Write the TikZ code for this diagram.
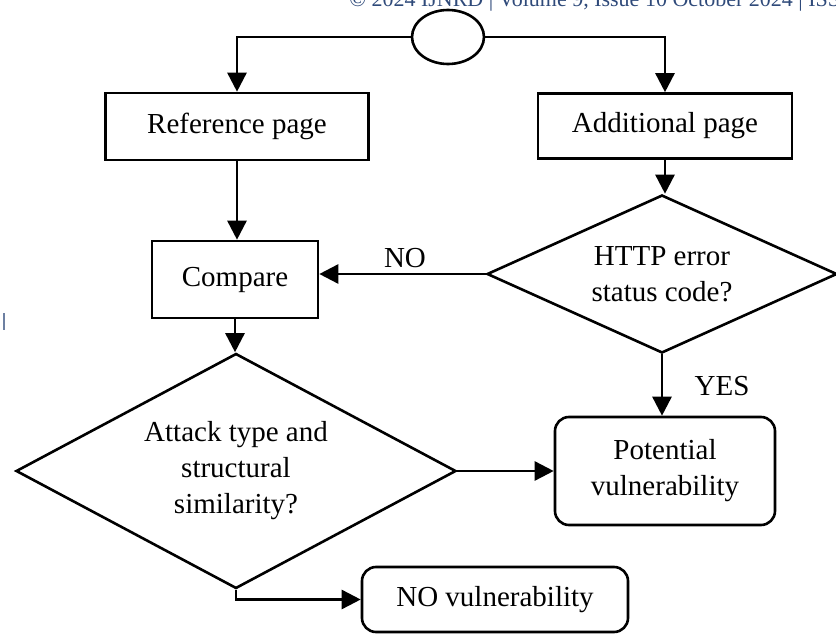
\documentclass[tikz,border=0pt]{standalone}
\usepackage{fontspec}
\setmainfont{Liberation Serif}
\usetikzlibrary{shapes.geometric,arrows.meta}
\definecolor{hdrblue}{HTML}{2F4A7A}
\begin{document}
\begin{tikzpicture}[x=1pt,y=-1pt,
  font=\fontsize{29}{36}\selectfont,
  line width=2.6pt,
  box/.style={draw, rectangle, inner sep=0pt, align=center},
  rbox/.style={box, rounded corners=14pt},
  decision/.style={draw, diamond, inner sep=0pt, align=center},
  terminal/.style={draw, ellipse, inner sep=0pt},
  arr/.style={-{Triangle[length=19pt,width=19pt]}},
  lbl/.style={inner sep=0pt}]
\useasboundingbox (0,0) rectangle (836,634);

% running header of the page (only its lower part is inside the page)
\node[anchor=base west, inner sep=0pt, text=hdrblue,
      font=\fontsize{22}{26}\selectfont] (hdr) at (348,6.5)
  {© 2024 IJNRD | Volume 9, Issue 10 October 2024 | ISSN: 2456-4184};
\draw[hdrblue!70, line width=2pt] (4,313) -- (4,330);

% nodes
\node[terminal, minimum width=72pt, minimum height=54pt] (start) at (448,37) {};
\node[box, minimum width=263pt, minimum height=67pt] (ref) at (237,126.5) {Reference page};
\node[box, minimum width=254pt, minimum height=65pt] (add) at (665,126) {Additional page};
\node[box, minimum width=166pt, minimum height=77pt] (cmp) at (235,279.5) {Compare};
\node[decision, shape aspect=2.2, minimum width=350pt, minimum height=158pt] (http) at (662,274)
  {HTTP error\\status code?};
\node[decision, shape aspect=1.87, minimum width=440pt, minimum height=235pt] (att) at (236,471)
  {Attack type and\\structural\\similarity?};
\node[rbox, minimum width=220pt, minimum height=108pt] (pot) at (665,471)
  {Potential\\vulnerability};
\node[rbox, minimum width=266pt, minimum height=65pt] (nov) at (495,599.5)
  {NO vulnerability};

% connectors
\draw[arr] (start.west) -| (ref.north);
\draw[arr] (start.east) -| (add.north);
\draw[arr] (ref.south) -- (ref.south |- cmp.north);
\draw[arr] (add.south) -- (add.south |- http.north);
\draw[arr] (http.west) -- (http.west -| cmp.east);
\draw[arr] (cmp.south) -- (cmp.south |- att.north);
\draw[arr] (http.south) -- (http.south |- pot.north);
\draw[arr] (att.east) -- (att.east -| pot.west);
\draw[arr] (att.south) |- (nov.west);

% branch labels
\node[lbl] (no) at (405,258) {NO};
\node[lbl] (yes) at (722,386) {YES};
\end{tikzpicture}
\end{document}
